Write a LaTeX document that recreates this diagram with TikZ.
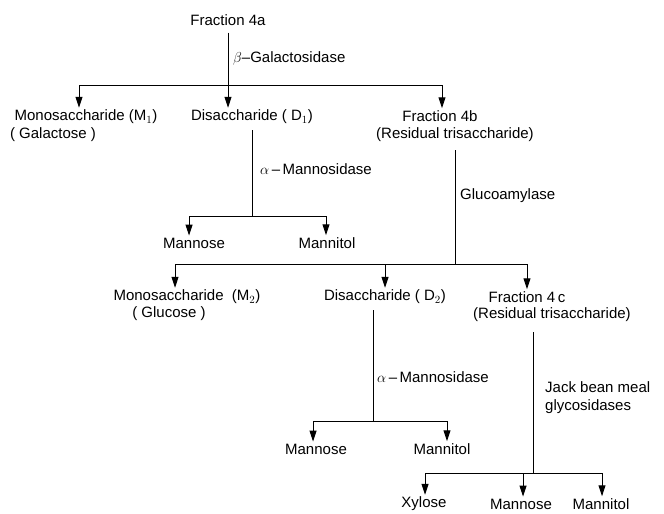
\documentclass[tikz,border=0pt]{standalone}
\usepackage{fontspec}
\setmainfont{Liberation Sans}
\usetikzlibrary{arrows.meta,positioning}

\begin{document}
\begin{tikzpicture}[x=1pt,y=-1pt,
  every node/.style={inner sep=0pt,font=\fontsize{15}{18}\selectfont},
  enz/.style={anchor=west},
  ln/.style={line width=1pt},
  arr/.style={ln,-{Triangle[length=11pt,width=7pt]},shorten >=2pt}]
\useasboundingbox (0,0) rectangle (664,514);

% first step: beta-galactosidase
\node (fa) at (228,20) {Fraction 4a};
\node[enz] (bgal) at (233,58) {$\beta$--Galactosidase};
\node (m1) at (86,117) {Monosaccharide (M$_1$)};
\node (m1g) at (53,135) {( Galactose )};
\node (d1) at (252,117) {Disaccharide ( D$_1$)};
\node (fb) at (440,116) {Fraction 4b};
\node (fbr) at (455,135) {(Residual trisaccharide)};
\coordinate (b1l) at (79,85);
\coordinate (b1r) at (442,85);
\draw[ln] (b1l) -- (b1r);
\draw[arr,shorten <=7pt] (fa) -- (fa |- d1.north);
\draw[arr] (b1l) -- (b1l |- m1.north);
\draw[arr] (b1r) -- (b1r |- fb.north);

% D1 with alpha-mannosidase
\node[enz] (aman1) at (260,169) {$\alpha$\,--\,Mannosidase};
\node (ma1) at (194,243) {Mannose};
\node (mt1) at (327,243) {Mannitol};
\coordinate (b2l) at (189,216);
\coordinate (b2r) at (326,216);
\draw[ln,shorten <=6pt] (d1) -- (d1 |- b2l);
\draw[ln] (b2l) -- (b2r);
\draw[arr] (b2l) -- (b2l |- ma1.north);
\draw[arr] (b2r) -- (b2r |- mt1.north);

% fraction 4b with glucoamylase
\node[enz] (gluc) at (460,196) {Glucoamylase};
\node (m2) at (187,297) {Monosaccharide\ \ (M$_2$)};
\node (m2g) at (169,314) {( Glucose )};
\node (d2) at (385,297) {Disaccharide ( D$_2$)};
\node (fc) at (527,297) {Fraction 4\,c};
\node (fcr) at (552,315) {(Residual trisaccharide)};
\coordinate (b3l) at (175,264);
\coordinate (b3r) at (527,264);
\draw[ln,shorten <=8pt] (fbr) -- (fbr |- b3l);
\draw[ln] (b3l) -- (b3r);
\draw[arr] (b3l) -- (b3l |- m2.north);
\draw[arr] (d2 |- b3l) -- (d2.north);
\draw[arr] (b3r) -- (b3r |- fc.north);

% D2 with alpha-mannosidase
\node[enz] (aman2) at (377,377) {$\alpha$\,--\,Mannosidase};
\node (ma2) at (316,449) {Mannose};
\node (mt2) at (442,449) {Mannitol};
\coordinate (j4) at (373,421);
\coordinate (b4l) at (313,421);
\coordinate (b4r) at (447,421);
\draw[ln,shorten <=6pt] (d2.south -| j4) -- (j4);
\draw[ln] (b4l) -- (b4r);
\draw[arr] (b4l) -- (b4l |- ma2.north);
\draw[arr] (b4r) -- (b4r |- mt2.north);

% fraction 4c with jack bean meal glycosidases
\node[enz,align=left] (jbm) at (545,398) {Jack bean meal\\glycosidases};
\node (xy) at (424,504) {Xylose};
\node (ma3) at (521,504) {Mannose};
\node (mt3) at (601,504) {Mannitol};
\coordinate (j5) at (533,473);
\coordinate (b5l) at (425,473);
\coordinate (b5m) at (523,473);
\coordinate (b5r) at (602,473);
\draw[ln,shorten <=10pt] (fcr.south -| j5) -- (j5);
\draw[ln] (b5l) -- (b5r);
\draw[arr] (b5l) -- (b5l |- xy.north);
\draw[arr] (b5m) -- (b5m |- ma3.north);
\draw[arr] (b5r) -- (b5r |- mt3.north);
\end{tikzpicture}
\end{document}
